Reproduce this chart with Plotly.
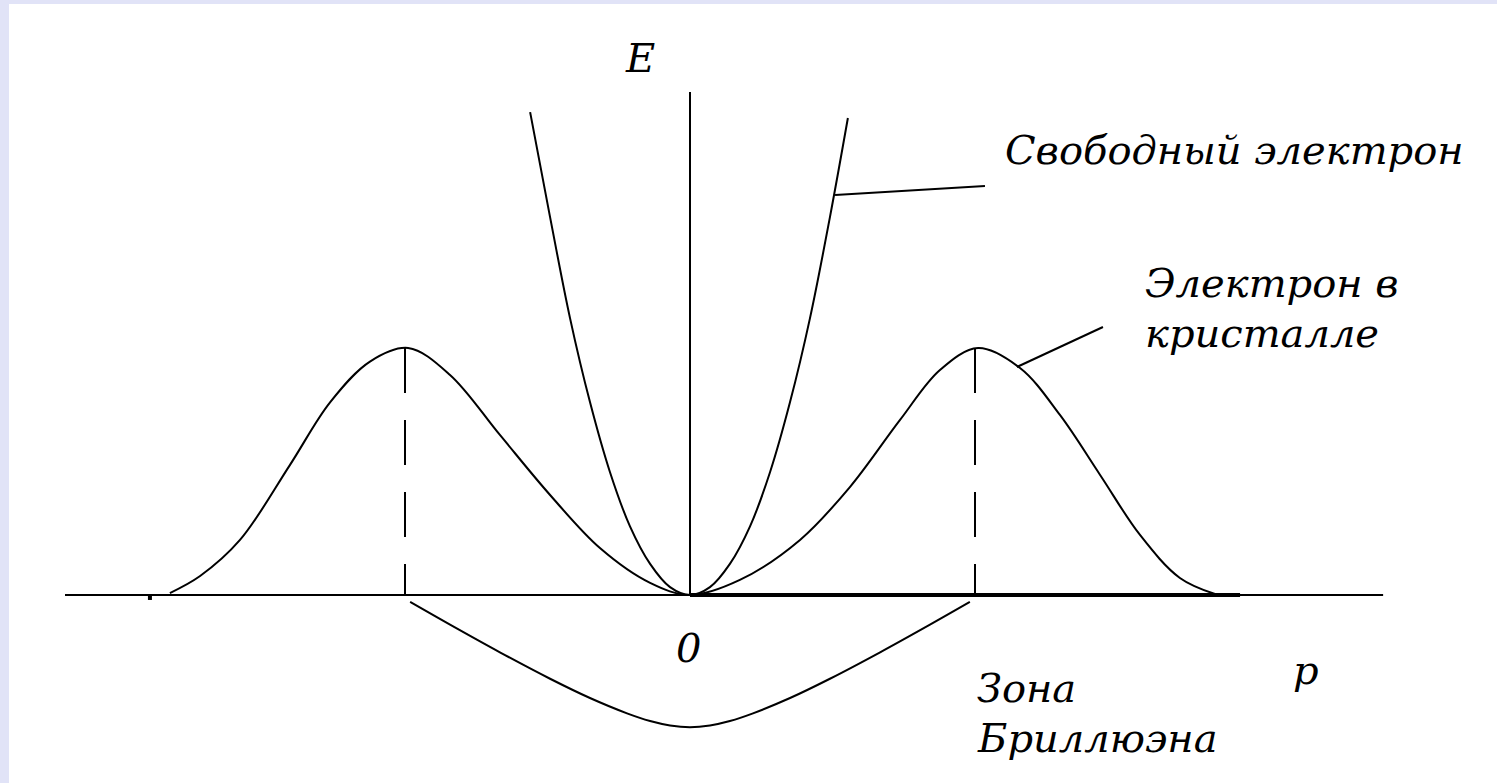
import plotly.graph_objects as go

# ---- data (p in units of Brillouin-zone half-width, E in units of band maximum) ----
crystal_p = [-1.825, -1.719, -1.579, -1.404, -1.263, -1.123, -0.989, -0.842, -0.667, -0.491, -0.316, -0.140, 0.0,
             0.175, 0.386, 0.561, 0.737, 0.877, 1.011, 1.158, 1.298, 1.439, 1.579, 1.719, 1.842]
crystal_E = [0.008, 0.077, 0.223, 0.526, 0.780, 0.945, 1.0, 0.891, 0.648, 0.405, 0.190, 0.049, 0.0,
             0.061, 0.223, 0.437, 0.709, 0.911, 1.0, 0.919, 0.729, 0.486, 0.243, 0.069, 0.004]

free_p = [-0.561, -0.491, -0.421, -0.351, -0.281, -0.211, -0.140, -0.070, 0.0,
          0.070, 0.140, 0.211, 0.281, 0.351, 0.421, 0.491, 0.554]
free_E = [1.955, 1.530, 1.121, 0.781, 0.498, 0.279, 0.126, 0.032, 0.0,
          0.032, 0.126, 0.279, 0.498, 0.781, 1.121, 1.530, 1.931]

zone_p = [-0.982, -0.842, -0.667, -0.491, -0.351, -0.221, -0.140, -0.070, 0.0,
          0.070, 0.140, 0.221, 0.351, 0.491, 0.667, 0.842, 0.982]
zone_E = [-0.028, -0.120, -0.232, -0.339, -0.417, -0.479, -0.510, -0.528, -0.535,
          -0.528, -0.510, -0.479, -0.417, -0.339, -0.232, -0.120, -0.028]

stray_dot_p = [-1.895]
stray_dot_E = [-0.012]

zone_edges = [-1.0, 1.0]
band_top = 1.0

p_axis = [-2.193, 2.432]
E_axis = [0.0, 2.036]
thick_p = [0.0, 1.93]

free_leader_p = [0.509, 1.035]
free_leader_E = [1.619, 1.656]
cryst_leader_p = [1.147, 1.449]
cryst_leader_E = [0.923, 1.085]

labels = [
    ("E", -0.175, 2.174, "center"),
    ("Свободный электрон", 1.098, 1.802, "left"),
    ("Электрон в", 1.589, 1.263, "left"),
    ("кристалле", 1.589, 1.061, "left"),
    ("0", -0.007, -0.215, "center"),
    ("p", 2.161, -0.304, "center"),
    ("Зона", 1.0, -0.377, "left"),
    ("Бриллюэна", 1.0, -0.579, "left"),
]

BLACK = "#000000"
fig = go.Figure()

def line(x, y, w=2, dash="solid", smooth=True):
    ln = dict(color=BLACK, width=w, dash=dash)
    if smooth:
        ln.update(shape="spline", smoothing=1.0)
    fig.add_trace(go.Scatter(x=x, y=y, mode="lines", line=ln,
                             hoverinfo="skip", showlegend=False))

# axes
line(p_axis, [0, 0], w=2, smooth=False)
line(thick_p, [0, 0], w=4, smooth=False)
line([0, 0], E_axis, w=2, smooth=False)
# curves
line(crystal_p, crystal_E, w=2)
line(free_p, free_E, w=2)
line(zone_p, zone_E, w=2)
# zone edge dashed lines
for pe in zone_edges:
    fig.add_trace(go.Scatter(x=[pe, pe], y=[band_top, 0], mode="lines",
                             line=dict(color=BLACK, width=2, dash="45px,27px"),
                             hoverinfo="skip", showlegend=False))
# leader lines
line(free_leader_p, free_leader_E, w=2, smooth=False)
line(cryst_leader_p, cryst_leader_E, w=2, smooth=False)
# stray dot on the axis
fig.add_trace(go.Scatter(x=stray_dot_p, y=stray_dot_E, mode="markers",
                         marker=dict(color=BLACK, size=4, symbol="square"),
                         hoverinfo="skip", showlegend=False))

for txt, x, y, anchor in labels:
    fig.add_annotation(x=x, y=y, text=txt, showarrow=False, xanchor=anchor, yanchor="middle",
                       font=dict(family="DejaVu Serif", size=40, color=BLACK, style="italic"))

fig.update_layout(
    width=1497, height=783,
    margin=dict(l=9, r=0, t=4, b=0),
    paper_bgcolor="#E1E3F7",
    plot_bgcolor="#FFFFFF",
    xaxis=dict(range=[-2.3895, 2.8316], visible=False, fixedrange=True),
    yaxis=dict(range=[-0.7611, 2.3927], visible=False, fixedrange=True),
)

fig.write_html("out.html", config={"displayModeBar": False},
               post_script="document.body.style.margin='0';document.body.style.overflow='hidden';")
